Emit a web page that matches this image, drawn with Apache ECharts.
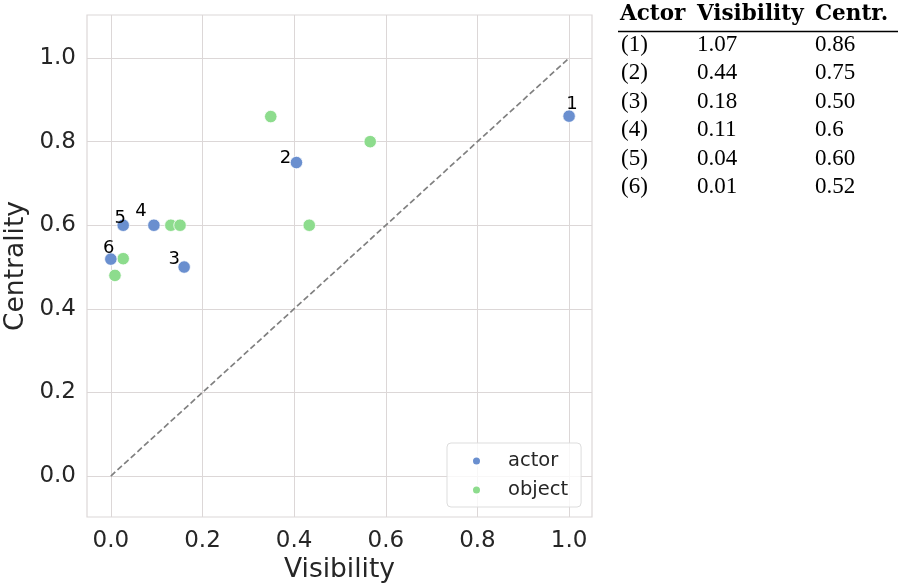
<!DOCTYPE html>
<html>
<head>
<meta charset="utf-8">
<script src="https://cdn.jsdelivr.net/npm/echarts@6/dist/echarts.min.js"></script>
<style>html,body{margin:0;padding:0;background:#fff;}#c{width:902px;height:588px;}</style>
</head>
<body>
<div id="c"></div>
<script>
// ---- data ----
const actorLabels = ['1', '2', '3', '4', '5', '6'];
const actorVisibility = [1.0, 0.405, 0.16, 0.094, 0.027, 0.0];
const actorCentrality = [0.861, 0.75, 0.50, 0.60, 0.60, 0.519];
const objectVisibility = [0.349, 0.566, 0.433, 0.131, 0.151, 0.027, 0.009];
const objectCentrality = [0.86, 0.80, 0.60, 0.60, 0.60, 0.52, 0.48];
const diagonal = [[0, 0], [1, 1]];
const tickValues = [0.0, 0.2, 0.4, 0.6, 0.8, 1.0];
const tableHeader = ['Actor', 'Visibility', 'Centr.'];
const tableActor = ['(1)', '(2)', '(3)', '(4)', '(5)', '(6)'];
const tableVisibility = ['1.07', '0.44', '0.18', '0.11', '0.04', '0.01'];
const tableCentrality = ['0.86', '0.75', '0.50', '0.6', '0.60', '0.52'];

// ---- styling (not data) ----
const labelOffsets = [[3, -12], [-11, -4], [-10, -8], [-13, -14], [-3, -7], [-2, -11]];
const gridColor = '#dcd7d7';
const textColor = '#262626';

const actorData = actorVisibility.map((v, i) => ({
  value: [v, actorCentrality[i]],
  label: { offset: labelOffsets[i], formatter: actorLabels[i] }
}));
const objectData = objectVisibility.map((v, i) => [v, objectCentrality[i]]);

const bodyFont = '"Liberation Serif", serif';
const headFont = '"DejaVu Serif", serif';
const headerX = [620, 697, 815];
const colX = [621, 697, 815];
const rowY0 = 44.5, rowStep = 28.5;
const graphics = [];
tableHeader.forEach((t, i) => graphics.push({
  type: 'text', x: headerX[i], y: 14,
  style: { text: t, font: 'bold 21.5px ' + headFont, fill: '#000', textVerticalAlign: 'middle' }
}));
graphics.push({ type: 'line', shape: { x1: 618, y1: 31.5, x2: 898, y2: 31.5 }, style: { stroke: '#000', lineWidth: 1.3 } });
[tableActor, tableVisibility, tableCentrality].forEach((col, ci) => {
  col.forEach((t, ri) => graphics.push({
    type: 'text', x: colX[ci], y: rowY0 + ri * rowStep,
    style: { text: t, font: '23px ' + bodyFont, fill: '#000', textVerticalAlign: 'middle' }
  }));
});

const axisCommon = {
  type: 'value',
  axisLine: { show: false },
  axisTick: { show: false, customValues: tickValues },
  axisLabel: { customValues: tickValues, color: textColor, fontSize: 23, fontFamily: 'DejaVu Sans', formatter: v => v.toFixed(1) },
  splitLine: { show: true, lineStyle: { color: gridColor, width: 1 } },
  nameLocation: 'middle',
  nameMoveOverlap: false,
  nameTextStyle: { color: textColor, fontSize: 26.5, fontFamily: 'DejaVu Sans' }
};

const chart = echarts.init(document.getElementById('c'), null, { renderer: 'canvas' });
chart.setOption({
  animation: false,
  backgroundColor: '#fff',
  grid: { left: 87, right: 310, top: 15, bottom: 71, show: true, borderColor: gridColor, borderWidth: 1.2, containLabel: false, outerBoundsMode: 'none' },
  xAxis: Object.assign({}, axisCommon, {
    min: -0.052, max: 1.05, name: 'Visibility', nameGap: 40,
    axisLabel: Object.assign({}, axisCommon.axisLabel, { margin: 13 })
  }),
  yAxis: Object.assign({}, axisCommon, {
    min: -0.098, max: 1.103, name: 'Centrality', nameGap: 57,
    axisLabel: Object.assign({}, axisCommon.axisLabel, { margin: 11 })
  }),
  legend: {
    orient: 'vertical', left: 447, top: 443,
    padding: [8, 13, 7, 24],
    itemGap: 9, itemWidth: 9, itemHeight: 9, icon: 'circle',
    borderColor: '#dddddd', borderWidth: 1, borderRadius: 4,
    backgroundColor: 'rgba(255,255,255,0.8)',
    textStyle: { fontSize: 19.5, fontFamily: 'DejaVu Sans', color: textColor, padding: [0, 0, 0, 22] },
    data: ['actor', 'object']
  },
  graphic: graphics,
  series: [
    {
      name: 'diag', type: 'line', data: diagonal, symbol: 'none', silent: true,
      lineStyle: { color: '#808080', width: 1.7, type: [6, 3] }, z: 1
    },
    {
      name: 'actor', type: 'scatter', data: actorData, symbolSize: 12.5,
      itemStyle: { color: '#6a8fcf', borderColor: '#fff', borderWidth: 0.8, opacity: 1 },
      label: { show: true, position: 'inside', color: '#000', fontSize: 18, fontFamily: 'DejaVu Sans' },
      z: 3
    },
    {
      name: 'object', type: 'scatter', data: objectData, symbolSize: 12.5,
      itemStyle: { color: '#8ddc8d', borderColor: '#fff', borderWidth: 0.8, opacity: 1 },
      z: 2
    }
  ]
});
</script>
</body>
</html>
